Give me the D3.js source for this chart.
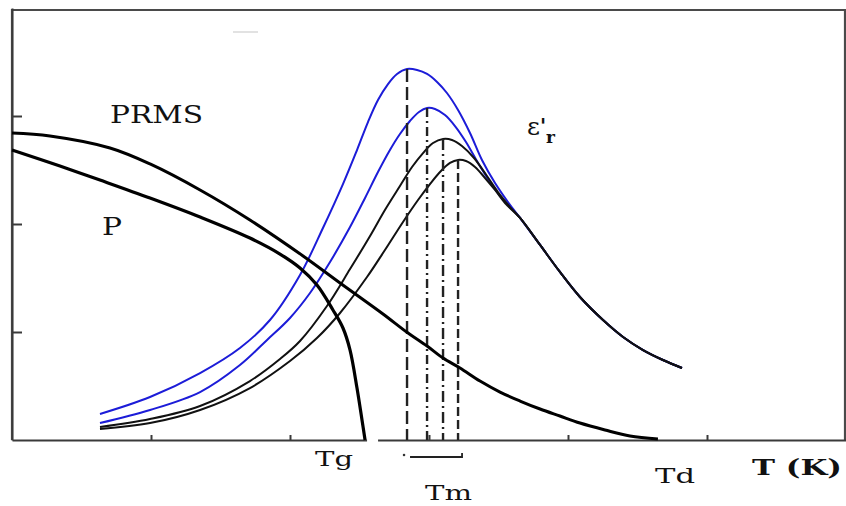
<!DOCTYPE html>
<html>
<head>
<meta charset="utf-8">
<script src="https://cdn.jsdelivr.net/npm/d3@7"></script>
<style>
  body { margin: 0; background: #fff; }
  svg text { font-family: "DejaVu Serif", "Liberation Serif", serif; fill: #111; }
</style>
</head>
<body>
<div id="chart"></div>
<script>
// axis ticks (no numeric labels in the original)
var t_ticks = [1, 2, 3, 4, 5];
var y_ticks = [1, 2, 3];

// PRMS : falls slowly, reaches zero at Td
var prms_t = [0, 0.273, 0.705, 0.993, 1.353, 1.712, 2.094, 2.360, 2.669, 2.842, 2.986, 3.101, 3.223, 3.367, 3.511, 3.655, 3.799, 3.942, 4.086, 4.266, 4.446, 4.647];
var prms_v = [2.843, 2.815, 2.704, 2.556, 2.315, 2.037, 1.704, 1.454, 1.167, 0.997, 0.870, 0.759, 0.667, 0.546, 0.444, 0.361, 0.287, 0.222, 0.157, 0.093, 0.037, 0.009];

// P : drops to zero at Tg
var p_t = [0, 0.345, 0.633, 0.993, 1.353, 1.712, 1.928, 2.072, 2.194, 2.309, 2.381, 2.432, 2.482, 2.518, 2.540];
var p_v = [2.685, 2.537, 2.407, 2.241, 2.065, 1.870, 1.722, 1.593, 1.435, 1.204, 1.037, 0.833, 0.481, 0.185, 0];

// eps'r, four frequencies (two blue, two black); all share the same high-T tail
var tail_t = [3.655, 3.799, 3.942, 4.086, 4.252, 4.396, 4.540, 4.683, 4.820];
var tail_v = [2.056, 1.806, 1.556, 1.324, 1.111, 0.954, 0.833, 0.741, 0.667];

var eps1_t = [0.633, 0.993, 1.353, 1.640, 1.856, 2.072, 2.237, 2.381, 2.482, 2.561, 2.633, 2.705, 2.770, 2.842, 2.914, 2.986, 3.058, 3.129, 3.209, 3.295, 3.381, 3.475, 3.568];
var eps1_v = [0.241, 0.398, 0.620, 0.852, 1.111, 1.528, 1.963, 2.370, 2.685, 2.944, 3.148, 3.296, 3.389, 3.435, 3.426, 3.389, 3.315, 3.213, 3.056, 2.843, 2.593, 2.380, 2.204];

var eps2_t = [0.633, 0.993, 1.353, 1.640, 1.835, 2.000, 2.144, 2.288, 2.432, 2.540, 2.633, 2.719, 2.791, 2.863, 2.928, 2.986, 3.043, 3.115, 3.187, 3.266, 3.353, 3.439, 3.511, 3.583];
var eps2_v = [0.157, 0.278, 0.444, 0.694, 0.926, 1.130, 1.361, 1.648, 1.972, 2.241, 2.481, 2.685, 2.833, 2.954, 3.037, 3.074, 3.065, 3.009, 2.907, 2.759, 2.565, 2.389, 2.259, 2.157];

var eps3_t = [0.633, 0.993, 1.353, 1.712, 1.928, 2.072, 2.266, 2.432, 2.576, 2.683, 2.791, 2.878, 2.957, 3.029, 3.101, 3.165, 3.237, 3.324, 3.417, 3.496, 3.583];
var eps3_v = [0.120, 0.194, 0.315, 0.546, 0.750, 0.917, 1.241, 1.583, 1.889, 2.130, 2.352, 2.528, 2.657, 2.750, 2.787, 2.778, 2.722, 2.611, 2.444, 2.296, 2.157];

var eps4_t = [0.633, 0.993, 1.353, 1.712, 2.000, 2.194, 2.360, 2.554, 2.683, 2.813, 2.921, 3.007, 3.086, 3.151, 3.209, 3.266, 3.331, 3.403, 3.475, 3.547];
var eps4_v = [0.102, 0.157, 0.278, 0.481, 0.731, 0.944, 1.176, 1.509, 1.759, 2.019, 2.222, 2.370, 2.491, 2.565, 2.593, 2.583, 2.528, 2.426, 2.315, 2.194];

var eps_colors = ["#1c1cd8", "#1c1cd8", "#111", "#111"];
var tm_dash = ["13,5", "9,4,2,4", "11,4,2,4", "9,4"];

var width = 846, height = 506;

var svg = d3.select("#chart").append("svg")
  .attr("width", width)
  .attr("height", height);

var x = d3.scaleLinear().domain([0, 6]).range([12, 846]);
var y = d3.scaleLinear().domain([0, 4]).range([440, 8]);

function pts (ts, vs) {
  return ts.map(function (t, i) { return [t, vs[i]]; });
}

var line = d3.line()
  .curve(d3.curveCatmullRom.alpha(0.5))
  .x(function (d) { return x(d[0]); })
  .y(function (d) { return y(d[1]); });

// frame
svg.append("path")
  .attr("d", "M12,440 L12,10 L845,10 L845,440")
  .attr("fill", "none")
  .attr("stroke", "#4a4a4a")
  .attr("stroke-width", 2.2);

// faint stray mark near the top
svg.append("line")
  .attr("x1", 233).attr("x2", 258).attr("y1", 32).attr("y2", 32)
  .attr("stroke", "#e2e2e2").attr("stroke-width", 2);

var x_axis = svg.append("g")
  .attr("transform", "translate(0,440)")
  .call(d3.axisBottom(x).tickValues(t_ticks).tickSize(-5).tickSizeOuter(0).tickFormat(""));
x_axis.selectAll("path, line").attr("stroke", "#3a3a3a").attr("stroke-width", 2);

var y_axis = svg.append("g")
  .attr("transform", "translate(12,0)")
  .call(d3.axisLeft(y).tickValues(y_ticks).tickSize(-10).tickSizeOuter(0).tickFormat(""));
y_axis.selectAll("path, line").attr("stroke", "#3a3a3a").attr("stroke-width", 2);

// break in the T axis just after Tg
svg.append("rect")
  .attr("x", x(p_t[p_t.length - 1]) + 2).attr("y", 436)
  .attr("width", 11).attr("height", 8)
  .attr("fill", "#fff");

// eps'r curves
var eps_series = [
  pts(eps1_t, eps1_v).concat(pts(tail_t, tail_v)),
  pts(eps2_t, eps2_v).concat(pts(tail_t, tail_v)),
  pts(eps3_t, eps3_v).concat(pts(tail_t, tail_v)),
  pts(eps4_t, eps4_v).concat(pts(tail_t, tail_v))
];

svg.append("g").selectAll("path")
  .data(eps_series)
  .enter().append("path")
  .attr("d", line)
  .attr("fill", "none")
  .attr("stroke", function (d, i) { return eps_colors[i]; })
  .attr("stroke-width", 2);

// dashed lines from each maximum down to the axis (Tm)
var peaks = eps_series.map(function (s) {
  return s[d3.maxIndex(s, function (d) { return d[1]; })];
});

svg.append("g").selectAll("line")
  .data(peaks)
  .enter().append("line")
  .attr("x1", function (d) { return x(d[0]); })
  .attr("x2", function (d) { return x(d[0]); })
  .attr("y1", function (d) { return y(d[1]); })
  .attr("y2", y(0))
  .attr("stroke", "#222")
  .attr("stroke-width", 2.4)
  .attr("stroke-dasharray", function (d, i) { return tm_dash[i]; });

// polarisation curves
svg.append("path")
  .datum(pts(prms_t, prms_v))
  .attr("d", line)
  .attr("fill", "none")
  .attr("stroke", "#000")
  .attr("stroke-width", 3);

svg.append("path")
  .datum(pts(p_t, p_v))
  .attr("d", line)
  .attr("fill", "none")
  .attr("stroke", "#000")
  .attr("stroke-width", 3.2);

// Tm bracket
var tm_left = x(peaks[0][0]), tm_right = x(peaks[3][0]);
svg.append("circle")
  .attr("cx", tm_left - 3).attr("cy", 455).attr("r", 1.3).attr("fill", "#333");
svg.append("path")
  .attr("d", "M" + (tm_left + 3) + ",457 L" + (tm_right + 4) + ",457 L" + (tm_right + 4) + ",453")
  .attr("fill", "none")
  .attr("stroke", "#222")
  .attr("stroke-width", 1.8);

// labels
svg.append("text").attr("x", 110).attr("y", 123)
  .attr("font-size", 25).attr("textLength", 93).attr("lengthAdjust", "spacingAndGlyphs")
  .text("PRMS");
svg.append("text").attr("x", 102).attr("y", 235)
  .attr("font-size", 24).attr("textLength", 20).attr("lengthAdjust", "spacingAndGlyphs")
  .text("P");
svg.append("text").attr("x", 315).attr("y", 466)
  .attr("font-size", 20).attr("textLength", 38).attr("lengthAdjust", "spacingAndGlyphs")
  .text("Tg");
svg.append("text").attr("x", 425).attr("y", 500)
  .attr("font-size", 20).attr("textLength", 47).attr("lengthAdjust", "spacingAndGlyphs")
  .text("Tm");
svg.append("text").attr("x", 655).attr("y", 483)
  .attr("font-size", 21).attr("textLength", 40).attr("lengthAdjust", "spacingAndGlyphs")
  .text("Td");
svg.append("text").attr("x", 752).attr("y", 475)
  .attr("font-size", 23).attr("font-weight", "bold")
  .attr("textLength", 90).attr("lengthAdjust", "spacingAndGlyphs")
  .text("T (K)");

var eps_label = svg.append("text").attr("x", 527).attr("y", 135).attr("font-size", 25);
eps_label.append("tspan").text("ε");
eps_label.append("tspan").attr("dy", -2).attr("font-size", 20).attr("font-weight", "bold").text("'");
eps_label.append("tspan").attr("dy", 10).attr("font-size", 17).attr("font-weight", "bold").text("r");
</script>
</body>
</html>
